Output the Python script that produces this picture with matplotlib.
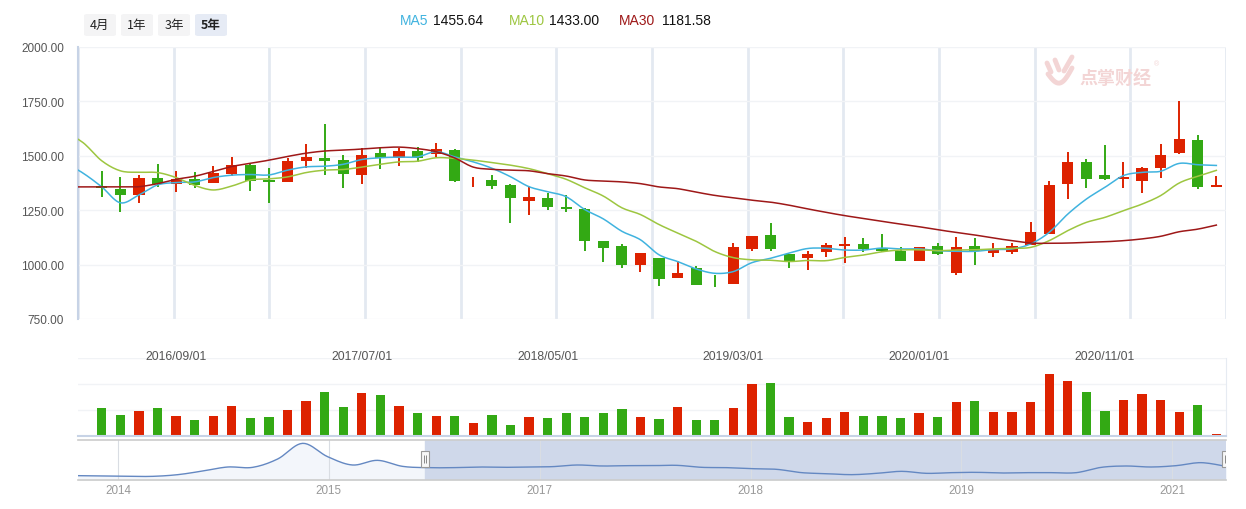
import numpy as np
import pandas as pd
import matplotlib
matplotlib.use('Agg')
import matplotlib.pyplot as plt
from matplotlib.patches import FancyBboxPatch, Rectangle
from matplotlib.lines import Line2D

plt.rcParams['font.family'] = ['Liberation Sans', 'Noto Sans CJK SC', 'DejaVu Sans']

# monthly candles, 2016/05 .. 2021/05
months = pd.date_range('2016-05-01', periods=61, freq='MS').strftime('%Y/%m/%d').tolist()

opens = [1360, 1347, 1321, 1398, 1369, 1393, 1376, 1416, 1458, 1389,
         1381, 1476, 1490, 1481, 1413, 1513, 1490, 1522, 1508, 1527,
         1387, 1389, 1366, 1294, 1306, 1263, 1255, 1107, 1085, 999,
         1030, 940, 984, 912, 912, 1073, 1136, 1049, 1030, 1059,
         1087, 1095, 1076, 1062, 1018, 1084, 963, 1084, 1055, 1059,
         1090, 1142, 1372, 1471, 1412, 1395, 1386, 1444, 1514, 1573, 1358]
closes = [1352, 1321, 1398, 1372, 1393, 1367, 1421, 1458, 1386, 1381,
          1476, 1494, 1477, 1418, 1504, 1490, 1522, 1490, 1531, 1386,
          1390, 1363, 1305, 1311, 1266, 1257, 1110, 1078, 999, 1053,
          935, 961, 908, 910, 1081, 1131, 1073, 1012, 1049, 1090,
          1095, 1072, 1062, 1018, 1079, 1050, 1079, 1061, 1070, 1084,
          1150, 1366, 1471, 1395, 1395, 1403, 1444, 1504, 1577, 1358, 1366]
highs = [1431, 1401, 1412, 1462, 1431, 1426, 1453, 1494, 1462, 1444,
         1488, 1554, 1646, 1505, 1536, 1540, 1536, 1540, 1559, 1531,
         1401, 1412, 1370, 1360, 1328, 1320, 1260, 1107, 1093, 1053,
         1030, 1016, 993, 954, 1099, 1131, 1191, 1049, 1062, 1099,
         1125, 1122, 1141, 1079, 1081, 1099, 1125, 1122, 1099, 1099,
         1196, 1384, 1517, 1485, 1550, 1471, 1448, 1554, 1752, 1596, 1407]
lows = [1309, 1243, 1284, 1355, 1335, 1353, 1375, 1406, 1338, 1284,
        1381, 1442, 1412, 1352, 1370, 1439, 1453, 1471, 1496, 1381,
        1358, 1347, 1191, 1228, 1251, 1243, 1064, 1013, 986, 967,
        903, 940, 908, 898, 912, 1064, 1064, 986, 976, 1036,
        1006, 1059, 1059, 1018, 1016, 1045, 954, 1000, 1036, 1050,
        1090, 1142, 1303, 1353, 1390, 1353, 1330, 1399, 1510, 1349, 1358]
volumes = [84, 63, 75, 84, 60, 48, 60, 90, 54, 57,
           78, 105, 129, 87, 126, 120, 90, 69, 60, 60,
           39, 63, 33, 57, 54, 69, 57, 69, 81, 57,
           51, 87, 48, 48, 84, 153, 156, 57, 42, 54,
           72, 60, 60, 54, 69, 57, 102, 105, 72, 72,
           102, 183, 162, 129, 75, 108, 123, 108, 72, 93, 6]

# moving averages, starting two months before the first candle
ma5 = [1470, 1420, 1357, 1284, 1320, 1366, 1377, 1380, 1400, 1411, 1414, 1412,
       1434, 1449, 1452, 1461, 1483, 1491, 1494, 1495, 1519, 1495,
       1472, 1443, 1404, 1358, 1335, 1312, 1253, 1210, 1153, 1114,
       1045, 1014, 980, 960, 968, 1009, 1029, 1053, 1074, 1075,
       1067, 1067, 1076, 1072, 1072, 1064, 1061, 1061, 1069, 1072,
       1095, 1148, 1232, 1301, 1355, 1409, 1424, 1429, 1465, 1459, 1455.64]
ma10 = [1610, 1560, 1477, 1431, 1424, 1423, 1400, 1364, 1343, 1361, 1389, 1394,
        1403, 1423, 1434, 1437, 1448, 1461, 1472, 1475, 1491, 1488,
        1480, 1469, 1457, 1441, 1418, 1392, 1353, 1315, 1261, 1230,
        1184, 1145, 1107, 1060, 1032, 1022, 1020, 1014, 1019, 1018,
        1033, 1044, 1059, 1067, 1068, 1064, 1067, 1068, 1072, 1075,
        1079, 1110, 1156, 1194, 1217, 1248, 1278, 1317, 1375, 1406, 1433.00]
ma30 = [1357, 1357, 1357, 1357, 1358, 1372, 1392, 1406, 1428, 1451, 1465, 1480,
        1497, 1512, 1522, 1526, 1531, 1537, 1540, 1533, 1519, 1490,
        1448, 1438, 1434, 1431, 1418, 1407, 1389, 1384, 1380, 1372,
        1357, 1349, 1333, 1318, 1307, 1296, 1287, 1273, 1256, 1240,
        1225, 1212, 1199, 1186, 1174, 1160, 1148, 1136, 1122, 1110,
        1099, 1098, 1099, 1102, 1105, 1110, 1118, 1130, 1151, 1163, 1181.58]

# overview line in the zoom slider
slider_vals = [882, 862, 842, 842, 941, 1157, 1393, 1373, 1865, 2789,
               2003, 1511, 1786, 1432, 1354, 1354, 1393, 1373, 1393, 1413,
               1511, 1452, 1472, 1472, 1491, 1373, 1354, 1295, 1255, 1059,
               1000, 941, 1019, 1137, 1019, 1059, 1078, 1039, 1059, 1059,
               1059, 1373, 1452, 1393, 1472, 1649, 1432]
slider_years = ['2014', '2015', '2017', '2018', '2019', '2021']

RED = '#dd2200'
GREEN = '#33a914'
C_MA5 = '#40b3df'
C_MA10 = '#9dc640'
C_MA30 = '#9e1818'
GRID = '#f1f3f6'
VGRID = '#e3e9f1'
AXIS = '#c7d3e6'
PINK = '#f3d5d5'


def smooth(xs, ys, n=10):
    # catmull-rom curve through the points, like the smooth lines of the original
    p = np.column_stack([np.asarray(xs, float), np.asarray(ys, float)])
    p = np.vstack([p[0], p, p[-1]])
    t = np.linspace(0, 1, n, endpoint=False)[:, None]
    out = []
    for i in range(1, len(p) - 2):
        p0, p1, p2, p3 = p[i - 1], p[i], p[i + 1], p[i + 2]
        out.append(0.5 * (2 * p1 + (p2 - p0) * t + (2 * p0 - 5 * p1 + 4 * p2 - p3) * t ** 2
                          + (3 * p1 - p0 - 3 * p2 + p3) * t ** 3))
    out.append(p[-2][None])
    out = np.vstack(out)
    return out[:, 0], out[:, 1]


W, H = 1246, 510
fig = plt.figure(figsize=(W / 100, H / 100), dpi=100)

def fx(px):
    return px / W

def fy(py):
    return 1 - py / H

left, right = fx(78), fx(1226)
ax = fig.add_axes([left, fy(320), right - left, fy(48) - fy(320)])
axv = fig.add_axes([left, fy(437), right - left, fy(359) - fy(437)])
axs = fig.add_axes([left, fy(481), right - left, fy(441) - fy(481)])

o = np.array(opens, float)
c = np.array(closes, float)
x = np.arange(len(o))
cols = np.where(c >= o, RED, GREEN)

# ---- candles
xlim = (-1.28, 60.52)
for j in range(13):
    ax.axvline(j / 12 * (xlim[1] - xlim[0]) + xlim[0], color=VGRID, lw=2, zorder=0)
ax.vlines(x, lows, highs, colors=cols, lw=1.4, zorder=3)
ax.bar(x, np.maximum(np.abs(c - o), 3), 0.6, np.minimum(o, c), color=cols, zorder=3)
xm = np.arange(-2, len(o))
for vals, col in [(ma5, C_MA5), (ma10, C_MA10), (ma30, C_MA30)]:
    sx, sy = smooth(xm, vals)
    ax.plot(sx, sy, color=col, lw=1.1, zorder=4)
ax.set_xlim(*xlim)
ax.set_ylim(750, 2000)
yt = np.arange(750, 2001, 250)
ax.set_yticks(yt)
ax.set_yticklabels([f'{v:.2f}' for v in yt], fontsize=8.5, color='#555555')
ax.set_xticks([])
ax.tick_params(axis='y', length=0, pad=10)
for v in yt:
    ax.axhline(v, color=GRID, lw=1, zorder=0)
for s in ['top', 'right', 'bottom']:
    ax.spines[s].set_visible(False)
ax.spines['left'].set_color(AXIS)
ax.spines['left'].set_linewidth(1.5)

# ---- volume
axv.bar(x, volumes, 0.5, color=cols)
axv.set_xlim(*xlim)
axv.set_ylim(0, 231)
for v in [77, 154, 231]:
    axv.axhline(v, color=GRID, lw=1, zorder=0)
axv.set_xticks([])
axv.set_yticks([])
for s in ['top', 'left']:
    axv.spines[s].set_visible(False)
axv.spines['right'].set_color('#e6ebf2')
axv.spines['bottom'].set_color(AXIS)
axv.spines['bottom'].set_linewidth(1.5)
for i in range(4, len(months), 10):
    axv.text(i, 1.03, months[i], transform=axv.get_xaxis_transform(),
             ha='center', va='center', fontsize=8.8, color='#555555')

# ---- slider
k = np.arange(len(slider_vals))
axs.set_xlim(0, len(k) - 1)
axs.set_ylim(626, 2986)
kx, ky = smooth(k, slider_vals)
axs.fill_between(kx, 626, ky, color='#f3f6fb', zorder=1)
sel0 = (425 - 78) / (1226 - 78) * (len(k) - 1)
axs.axvspan(sel0, len(k) - 1, color='#cfd8ea', zorder=2)
axs.plot(kx, ky, color='#6488c2', lw=1.0, zorder=3)
ypos = 1.6 + 8.45 * np.arange(len(slider_years))
for p in ypos:
    axs.axvline(p, color='#d9dde3', lw=0.8, zorder=2.5)
axs.set_xticks(ypos)
axs.set_xticklabels(slider_years, fontsize=8.4, color='#999999')
axs.tick_params(axis='x', length=0, pad=3)
axs.set_yticks([])
for s in ['left', 'right']:
    axs.spines[s].set_visible(False)
for s in ['top', 'bottom']:
    axs.spines[s].set_color('#cccccc')
    axs.spines[s].set_linewidth(1.2)
for hx in [sel0, len(k) - 1]:
    hw = 0.16
    axs.add_patch(Rectangle((hx - hw, 0.32), 2 * hw, 0.40, transform=axs.get_xaxis_transform(),
                            facecolor='#f7f7f7', edgecolor='#999999', lw=0.8, zorder=5))
    axs.vlines([hx - 0.04, hx + 0.04], 0.42, 0.62, transform=axs.get_xaxis_transform(),
               colors='#777777', lw=0.6, zorder=6)

# ---- header buttons
buttons = ['4月', '1年', '3年', '5年']
for i, b in enumerate(buttons):
    x0 = 84 + i * 37
    active = b == '5年'
    fig.patches.append(FancyBboxPatch((fx(x0), fy(37)), fx(32), fy(15) - fy(37),
                                      boxstyle='round,pad=0,rounding_size=0.003',
                                      transform=fig.transFigure,
                                      facecolor='#e6ebf5' if active else '#f4f4f5',
                                      edgecolor='none'))
    fig.text(fx(x0 + 16), fy(25), b, ha='center', va='center', fontsize=9,
             color='#222222', fontweight='bold' if active else 'normal',
             family=['Noto Sans CJK SC', 'DejaVu Sans'])

# ---- MA legend
legend = [('MA5', ma5[-1], C_MA5, 400, 433), ('MA10', ma10[-1], C_MA10, 509, 549),
          ('MA30', ma30[-1], C_MA30, 619, 662)]
for name, val, col, x1, x2 in legend:
    fig.text(fx(x1), fy(21), name, color=col, fontsize=10, va='center')
    fig.text(fx(x2), fy(21), f'{val:.2f}', color='#111111', fontsize=10, va='center')

# ---- watermark
fig.text(fx(1115), fy(79), '点掌财经', ha='center', va='center', fontsize=13,
         fontweight='bold', color=PINK, family=['Noto Sans CJK SC'])
fig.text(fx(1156), fy(65), '®', ha='center', va='center', fontsize=5, color=PINK)
for (xa, ya), (xb, yb) in [((1047, 64), (1051, 73)), ((1055, 61), (1059, 71)),
                           ((1072, 58), (1064, 72))]:
    fig.add_artist(Line2D([fx(xa), fx(xb)], [fy(ya), fy(yb)], color=PINK, lw=3.5,
                          solid_capstyle='round', transform=fig.transFigure))
arc_t = np.linspace(0, 1, 20)
arc_x = 1048 + 24 * arc_t
arc_y = 75 + 12 * np.sin(np.pi * arc_t) - 6 * arc_t
fig.add_artist(Line2D(fx(arc_x), fy(arc_y), color=PINK, lw=3.5,
                      solid_capstyle='round', transform=fig.transFigure))

fig.savefig('out.png', dpi=100)
